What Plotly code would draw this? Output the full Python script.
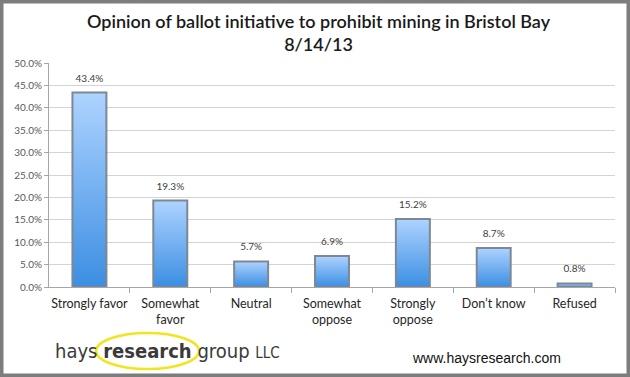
import plotly.graph_objects as go

categories = ["Strongly favor", "Somewhat<br>favor", "Neutral", "Somewhat<br>oppose",
              "Strongly<br>oppose", "Don’t know", "Refused"]
values = [43.4, 19.3, 5.7, 6.9, 15.2, 8.7, 0.8]
value_labels = ["43.4%", "19.3%", "5.7%", "6.9%", "15.2%", "8.7%", "0.8%"]
y_ticks = [0, 5, 10, 15, 20, 25, 30, 35, 40, 45, 50]
y_tick_labels = [f"{t:.1f}%" for t in y_ticks]
title_text = "Opinion of ballot initiative to prohibit mining in Bristol Bay<br>8/14/13"

W, H = 630, 377
ML, MR, MT, MB = 49, 15, 63, 90
PW, PH = W - ML - MR, H - MT - MB


def px(x):
    return (x - ML) / PW


def py(y):
    return (H - MB - y) / PH


fig = go.Figure()
half = 0.21
for i, v in enumerate(values):
    fig.add_trace(go.Scatter(
        x=[i - half, i + half, i + half, i - half, i - half],
        y=[0, 0, v, v, 0],
        mode="lines", fill="toself",
        fillgradient=dict(type="vertical",
                          colorscale=[[0, "#3b8ee2"], [1, "#aed3ff"]]),
        line=dict(color="#7d8894", width=2),
        hoverinfo="skip", showlegend=False,
    ))

fig.add_trace(go.Scatter(
    x=list(range(len(values))), y=values, mode="markers+text",
    marker=dict(size=12, color="rgba(0,0,0,0)"),
    text=value_labels, textposition="top center",
    textfont=dict(family="Lato, Open Sans, sans-serif", size=10, color="#404040"),
    showlegend=False, hoverinfo="skip",
))

fig.update_layout(
    width=W, height=H,
    margin=dict(l=ML, r=MR, t=MT, b=MB),
    paper_bgcolor="white", plot_bgcolor="white",
    xaxis=dict(
        range=[-0.5, 6.5], tickvals=list(range(len(categories))), ticktext=categories,
        showgrid=False, zeroline=False, showline=True, linecolor="#a6a6a6", linewidth=1,
        ticks="", ticklabelstandoff=5,
        tickfont=dict(family="Lato, Open Sans, sans-serif", size=12.5, color="#262626"),
        minor=dict(tickvals=[0.5, 1.5, 2.5, 3.5, 4.5, 5.5, 6.5], ticks="outside",
                   ticklen=5, tickcolor="#a6a6a6", showgrid=False),
        fixedrange=True,
    ),
    yaxis=dict(
        range=[0, 50], tickmode="array", tickvals=y_ticks, ticktext=y_tick_labels,
        showgrid=True, gridcolor="#d4d4d4", gridwidth=1,
        zeroline=False, showline=True, linecolor="#a6a6a6", linewidth=1,
        ticks="outside", ticklen=4, tickcolor="#a6a6a6",
        tickfont=dict(family="Lato, Open Sans, sans-serif", size=10, color="#595959"),
        fixedrange=True,
    ),
    shapes=[
        dict(type="circle", xref="paper", yref="paper",
             x0=px(96), x1=px(199), y0=py(369), y1=py(333),
             line=dict(color="#f2e51f", width=2.5)),
        dict(type="rect", xref="paper", yref="paper",
             x0=px(0), x1=px(W), y0=py(H), y1=py(0),
             line=dict(color="#7d7d7d", width=7)),
    ],
    annotations=[
        dict(xref="paper", yref="paper", x=px(319), y=py(8), xanchor="center", yanchor="top",
             text=title_text, showarrow=False, align="center",
             font=dict(family="Lato, Open Sans, sans-serif", size=18, color="#1a1a1a", weight=600)),
        dict(xref="paper", yref="paper", x=px(53), y=py(351), xanchor="left", yanchor="middle",
             text="hays <b>research</b> group <span style='font-size:15px'>LLC</span>", showarrow=False,
             font=dict(family="DejaVu Sans Condensed, Liberation Sans Narrow, sans-serif",
                       size=20, color="#3a3a3a")),
        dict(xref="paper", yref="paper", x=px(487), y=py(358), xanchor="center", yanchor="middle",
             text="www.haysresearch.com", showarrow=False,
             font=dict(family="Liberation Sans, Arial, sans-serif", size=14, color="#111111")),
    ],
)

fig.write_html("out.html", config={"displayModeBar": False},
               post_script="document.body.style.margin='0';")
